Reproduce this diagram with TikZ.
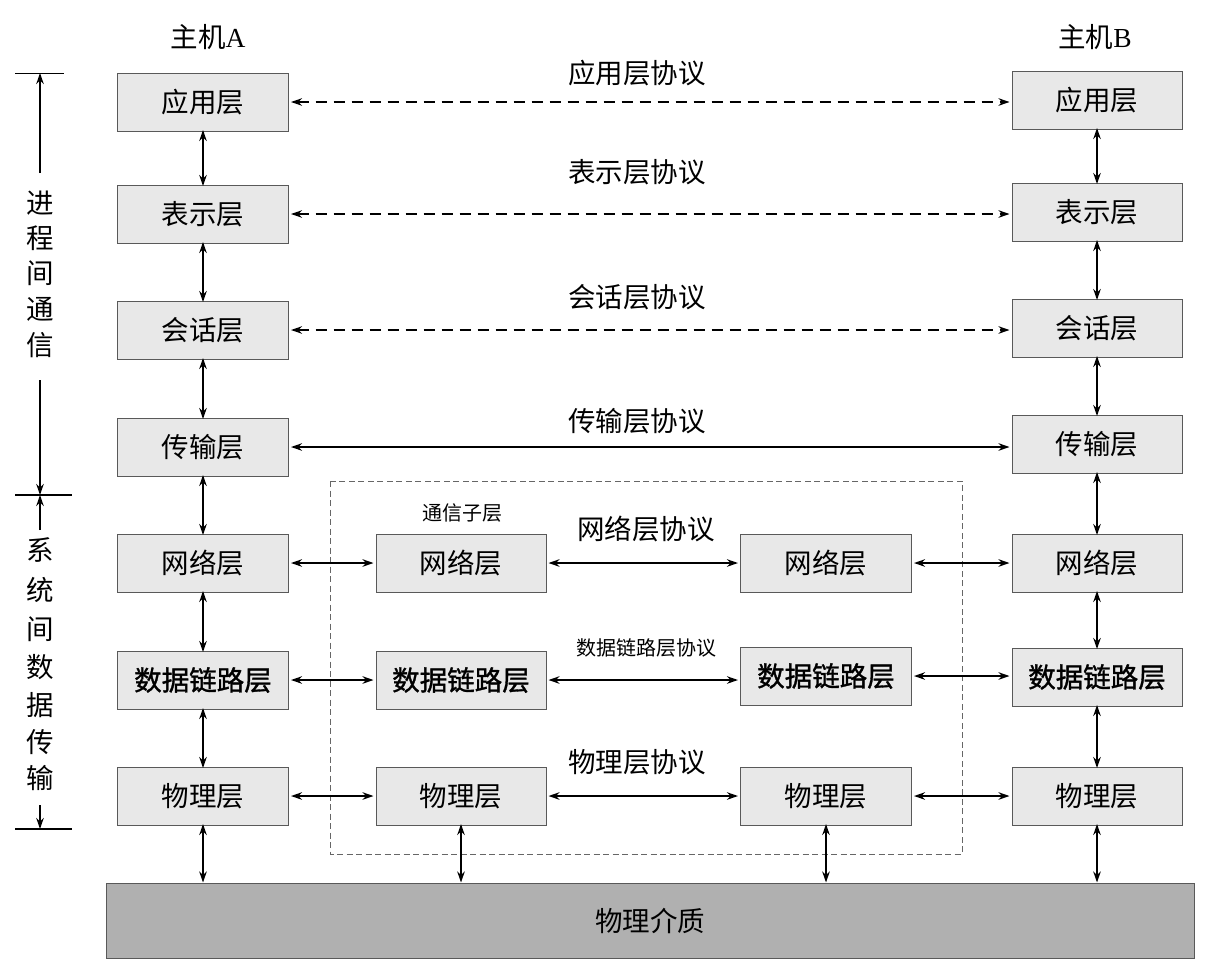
\documentclass[tikz,border=0pt]{standalone}
\usepackage{fontspec}
\setmainfont{Liberation Serif}
\newfontfamily\cjk{Noto Sans CJK SC}
\newfontfamily\cjkb[FakeBold=1.2]{Noto Sans CJK SC}
\usetikzlibrary{arrows.meta}
\begin{document}
\begin{tikzpicture}[x=1pt,y=-1pt,
  layer/.style={draw=black!65,fill=black!9,line width=1pt,minimum height=58pt,inner sep=0pt,font=\cjk\fontsize{27.5}{30}\selectfont},
  boldlayer/.style={layer,font=\cjkb\fontsize{27.5}{30}\selectfont},
  tip/.style={{Stealth[length=11pt,width=7.5pt]}-{Stealth[length=11pt,width=7.5pt]}},
  conn/.style={tip,line width=1.8pt},
  dconn/.style={tip,line width=1.6pt,dash pattern=on 11pt off 7pt},
  onearrow/.style={-{Stealth[length=11pt,width=7.5pt]},line width=1.6pt},
  lbl/.style={font=\cjk\fontsize{27.5}{30}\selectfont,inner sep=0pt},
  slbl/.style={font=\cjk\fontsize{20}{22}\selectfont,inner sep=0pt}
]
\useasboundingbox (0,0) rectangle (1220,975);
% dashed communication subnet frame
\draw[black!60,line width=1pt,dash pattern=on 6pt off 3.5pt] (330,481) rectangle (962,854);
% host A column
\node[layer,minimum width=171pt] (a7) at (203,102) {应用层};
\node[layer,minimum width=171pt] (a6) at (203,214) {表示层};
\node[layer,minimum width=171pt] (a5) at (203,330) {会话层};
\node[layer,minimum width=171pt] (a4) at (203,447) {传输层};
\node[layer,minimum width=171pt] (a3) at (203,563) {网络层};
\node[boldlayer,minimum width=171pt] (a2) at (203,680) {数据链路层};
\node[layer,minimum width=171pt] (a1) at (203,796) {物理层};
% host B column
\node[layer,minimum width=170pt] (b7) at (1097,100) {应用层};
\node[layer,minimum width=170pt] (b6) at (1097,212) {表示层};
\node[layer,minimum width=170pt] (b5) at (1097,328) {会话层};
\node[layer,minimum width=170pt] (b4) at (1097,444) {传输层};
\node[layer,minimum width=170pt] (b3) at (1097,563) {网络层};
\node[boldlayer,minimum width=170pt] (b2) at (1097,677) {数据链路层};
\node[layer,minimum width=170pt] (b1) at (1097,796) {物理层};
% intermediate nodes
\node[layer,minimum width=170pt] (m3) at (461,563) {网络层};
\node[boldlayer,minimum width=170pt] (m2) at (461,680) {数据链路层};
\node[layer,minimum width=170pt] (m1) at (461,796) {物理层};
\node[layer,minimum width=171pt] (n3) at (826,563) {网络层};
\node[boldlayer,minimum width=171pt] (n2) at (826,676) {数据链路层};
\node[layer,minimum width=171pt] (n1) at (826,796) {物理层};
% medium
\node[draw=black!65,fill=black!31,line width=1pt,minimum width=1088pt,minimum height=75pt,inner sep=0pt,font=\cjk\fontsize{27.5}{30}\selectfont] (med) at (650,920.5) {物理介质};
% titles
\node[lbl] (ha) at (208,37) {主机{\rmfamily A}};
\node[lbl] (hb) at (1095,37) {主机{\rmfamily B}};
% vertical connectors
\foreach \u/\l in {a7/a6,a6/a5,a5/a4,a4/a3,a3/a2,a2/a1,b7/b6,b6/b5,b5/b4,b4/b3,b3/b2,b2/b1}
  \draw[conn] ([yshift=1.5pt]\u.south) -- ([yshift=-1.5pt]\l.north);
\foreach \u in {a1,b1,m1,n1}
  \draw[conn] ([yshift=1.5pt]\u.south) -- (\u.south |- med.north);
% peer protocols
\draw[dconn] ([xshift=2pt]a7.east) -- ([xshift=-2pt]a7.east -| b7.west);
\draw[dconn] ([xshift=2pt]a6.east) -- ([xshift=-2pt]a6.east -| b6.west);
\draw[dconn] ([xshift=2pt]a5.east) -- ([xshift=-2pt]a5.east -| b5.west);
\draw[conn] ([xshift=2pt]a4.east) -- ([xshift=-2pt]a4.east -| b4.west);
\foreach \p/\q in {a3/m3,a2/m2,a1/m1,m3/n3,m2/n2,m1/n1}
  \draw[conn] ([xshift=2pt]\p.east) -- ([xshift=-2pt]\p.east -| \q.west);
\foreach \p/\q in {n3/b3,n2/b2,n1/b1}
  \draw[conn] ([xshift=2pt]\p.east) -- ([xshift=-2pt]\p.east -| \q.west);
% protocol labels
\node[lbl] (p7) at (637,73) {应用层协议};
\node[lbl] (p6) at (637,172) {表示层协议};
\node[lbl] (p5) at (637,297) {会话层协议};
\node[lbl] (p4) at (637,421) {传输层协议};
\node[lbl] (p3) at (646,529) {网络层协议};
\node[slbl] (p2) at (646,648) {数据链路层协议};
\node[lbl] (p1) at (637,762) {物理层协议};
\node[slbl] (sub) at (462,513) {通信子层};
% left side annotation
\coordinate (t1) at (15,73); \coordinate (t2) at (64,73);
\coordinate (m1l) at (15,495); \coordinate (m2l) at (72,495);
\coordinate (b1l) at (15,829); \coordinate (b2l) at (72,829);
\draw[line width=1pt] (t1) -- (t2);
\draw[line width=1.4pt] (m1l) -- (m2l);
\draw[line width=1.4pt] (b1l) -- (b2l);
\coordinate (u1) at (40,173); \coordinate (u0) at (40,73);
\coordinate (d1) at (40,380); \coordinate (d0) at (40,495);
\coordinate (e1) at (40,530); \coordinate (e0) at (40,495);
\coordinate (f1) at (40,805); \coordinate (f0) at (40,829);
\draw[onearrow] (u1) -- (u0);
\draw[onearrow] (d1) -- (d0);
\draw[onearrow] (e1) -- (e0);
\draw[onearrow] (f1) -- (f0);
\foreach \c/\y [count=\i] in {进/203,程/238,间/273,通/309,信/345}
  \node[lbl] (lt\i) at (40,\y) {\c};
\foreach \c/\y [count=\i] in {系/550,统/590,间/629,数/667,据/705,传/742,输/778}
  \node[lbl] (lb\i) at (40,\y) {\c};
\end{tikzpicture}
\end{document}
